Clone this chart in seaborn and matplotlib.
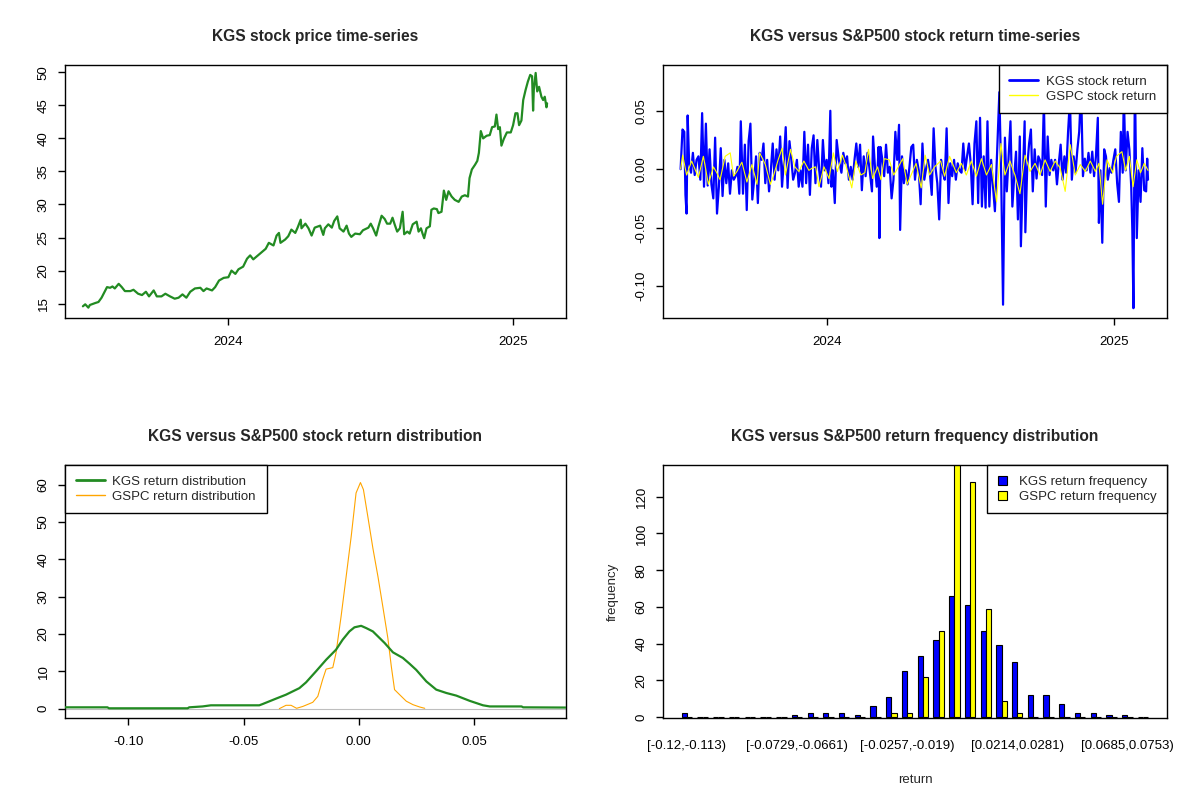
import numpy as np
import pandas as pd
import matplotlib
matplotlib.use("Agg")
import matplotlib.pyplot as plt
import seaborn as sns
from matplotlib.lines import Line2D
from matplotlib.patches import Patch

# ---------------- data ----------------
# KGS closing price: days relative to 2024-01-01, price in USD
price_day = [-187, -184, -180, -178, -171, -167, -163, -159, -156, -152, -149, -146, -141, -137,
             -133, -126, -122, -116, -111, -106, -102, -96, -92, -86, -81, -75, -69, -64, -59,
             -54, -49, -43, -36, -32, -28, -21, -17, -12, -6, 0, 4, 9, 13, 19, 24, 28, 32, 38,
             43, 48, 52, 58, 62, 65, 67, 73, 77, 81, 86, 89, 93, 94, 99, 103, 107, 111, 118,
             122, 124, 128.5, 133, 136, 140, 143, 148, 152, 155, 158, 163, 169, 173, 180, 183,
             186, 190, 193, 197, 201, 204, 208, 211, 214, 217, 220.5, 224, 226, 230, 233, 237,
             242, 244.5, 247.5, 249.6, 251.7, 254.7, 259, 261, 264, 268, 270, 274, 277, 280,
             283, 287, 291, 296, 300, 304, 308, 310, 313, 317, 320, 322, 324.5, 327.5, 332,
             336, 339, 342.5, 344.6, 346.8, 349, 351, 354, 358, 363, 366, 369, 371.6, 373.7,
             376.7, 379, 382, 385, 388, 390.4, 391.7, 392.6, 395, 397, 399.4, 402.4, 404.6,
             406.7, 408.9, 409.7]
price_val = [14.6, 14.9, 14.4, 14.8, 15.1, 15.25, 15.9, 16.8, 17.5, 17.4, 17.6, 17.3, 18.0, 17.5,
             16.9, 16.9, 17.1, 16.5, 16.3, 16.8, 16.1, 17.0, 16.1, 16.1, 16.5, 16.1, 15.75, 15.9,
             16.4, 15.9, 16.8, 17.3, 17.4, 16.9, 17.3, 17.0, 17.5, 18.5, 18.9, 19.0, 20.0, 19.5,
             20.2, 20.6, 21.8, 22.3, 21.7, 22.3, 22.8, 23.3, 24.2, 23.8, 25.3, 25.7, 24.2, 24.7,
             25.2, 26.2, 25.7, 26.5, 27.7, 26.4, 27.1, 26.4, 25.3, 26.5, 26.8,
             25.4, 26.4, 27.0, 26.5, 27.5, 28.2, 26.4, 25.9, 26.8, 25.6, 25.1, 25.6, 25.5, 26.1,
             26.5, 27.1, 26.4, 25.3, 26.7, 28.3, 27.8, 27.1, 27.1, 28.0, 26.9, 25.9, 26.4, 28.9,
             25.5, 25.9, 25.6, 27.0, 27.4, 25.9, 26.4, 25.6, 24.9, 26.4, 26.7, 29.2, 29.4, 29.3,
             28.7, 28.9, 32.1, 30.7, 32.0, 31.2, 30.7, 30.4, 31.2, 31.4, 31.2, 34.0, 35.3, 36.0,
             36.6, 37.8, 41.1, 40.0, 40.4, 40.5, 41.7, 41.8, 43.6, 41.4, 41.7, 38.9, 39.9, 40.9,
             40.9, 42.0, 43.8, 43.8, 42.0, 42.7, 45.8, 47.3, 48.6, 49.6, 49.4, 44.2, 47.3, 49.9,
             47.1, 47.8, 46.3, 45.8, 46.3, 44.7, 45.3]

# KGS daily return: days relative to 2024-01-01, return
kgs_ret_day = [-187.5, -185.1, -182.8, -181.3, -179.9, -178.5, -176.6, -174.2, -171.8, -169.5,
               -167.1, -164.7, -162.3, -160.0, -157.6, -155.2, -152.9, -150.5, -148.1, -145.7,
               -143.4, -141.0, -138.6, -136.2, -133.9, -131.5, -129.1, -126.7, -124.4, -122.0,
               -119.6, -117.2, -114.9, -112.5, -110.6, -107.8, -105.4, -103.0, -100.6, -98.3,
               -95.9, -93.5, -91.1, -88.8, -86.4, -84.0, -81.6, -79.3, -76.9, -74.5, -72.2,
               -69.8, -67.4, -65.0, -62.7, -60.3, -57.9, -55.5, -53.2, -50.8, -48.4, -46.0,
               -43.7, -41.3, -38.9, -36.6, -34.2, -31.8, -29.4, -27.1, -24.7, -22.3, -19.9,
               -17.6, -15.2, -12.8, -10.4, -8.1, -5.7, -3.3, -0.9, 1.4, 3.8, 5.2, 7.1, 9.5,
               11.9, 14.7, 18.0, 20.4, 22.8, 25.2, 27.5, 29.9, 32.3, 34.7, 37.0, 39.4, 41.8,
               44.1, 46.5, 48.9, 51.3, 53.6, 57.0, 58.4, 60.8, 63.1, 65.5, 66.5, 67.9, 70.3,
               72.6, 75.0, 77.4, 79.7, 82.1, 84.5, 86.9, 89.2, 91.6, 93.0, 95.4, 97.8, 100.2,
               102.5, 104.9, 107.3, 109.7, 112.0, 114.4, 116.8, 119.2, 121.5, 123.9, 126.3,
               128.6, 131.0, 133.4, 135.8, 138.1, 140.5, 142.9, 145.3, 147.6, 150.0, 152.4,
               154.8, 157.1, 159.5, 161.9, 164.2, 166.6, 169.0, 171.4, 173.7, 176.1, 178.5,
               180.9, 183.2, 185.6, 188.0, 190.4, 192.7, 195.1, 197.5, 199.8, 202.2, 204.6,
               207.0, 209.3, 211.7, 214.1, 216.5, 219.8, 222.2, 224.5, 226.9, 229.3, 231.7,
               234.0, 236.4, 238.8, 241.1, 243.5, 245.9, 247.3, 249.7, 252.1, 253.0, 255.4,
               257.8, 260.1, 262.5, 264.9, 267.3, 269.6, 272.0, 274.4, 276.7, 279.1, 281.5,
               283.9, 286.2, 288.6, 291.0, 293.4, 295.7, 298.1, 300.5, 302.9, 305.2, 307.6,
               310.0, 312.4, 314.7, 317.1, 319.5, 321.8, 324.2, 326.6, 329.0, 331.3, 333.7,
               336.1, 338.5, 340.8, 343.2, 345.6, 347.0, 348.9, 351.3, 353.7, 356.0, 358.4,
               360.8, 363.1, 365.5, 367.9, 370.3, 372.6, 375.0, 377.4, 378.8, 381.2, 383.6,
               385.9, 388.3, 389.7, 391.1, 393.0, 395.4, 397.8, 400.2, 402.5, 404.9, 407.3,
               408.7, 409.7]
kgs_ret = [0.000, 0.034, 0.032, -0.022, -0.038, 0.046, 0.005, -0.003, 0.014, -0.005,
           0.008, 0.011, -0.009, 0.048, -0.015, 0.039, -0.014, 0.017, -0.013, -0.025,
           0.027, -0.038, -0.015, 0.018, -0.023, 0.008, -0.012, 0.005, -0.021, -0.001,
           -0.009, -0.006, 0.002, -0.021, 0.041, -0.021, 0.021, -0.035, 0.024, 0.039,
           -0.026, -0.009, 0.011, -0.029, 0.014, 0.008, 0.022, -0.012, 0.008, -0.019, -0.001,
           0.022, -0.009, 0.017, -0.001, 0.028, -0.015, 0.008, 0.036, -0.016, 0.024, 0.008,
           -0.009, -0.003, 0.008, -0.015, -0.001, -0.015, 0.032, -0.012, 0.021, -0.022, 0.018,
           0.029, -0.012, 0.025, -0.001, -0.015, 0.025, -0.001, 0.008, -0.012, 0.050, -0.015, -0.001, -0.029,
           0.025, 0.008, -0.003, 0.014, 0.005, 0.011, -0.009, 0.002, -0.009, 0.008, 0.022, 0.002, 0.021,
           -0.018, 0.011, -0.006, 0.014, 0.002, -0.019, 0.028, 0.002, -0.015, 0.019, -0.059, 0.019, 0.008,
           -0.006, 0.021, -0.003, 0.002, -0.025, -0.009, 0.032, 0.008, 0.038, -0.052, 0.011, -0.012, -0.001,
           -0.013, 0.002, 0.019, 0.021, -0.009, 0.008, -0.001, -0.030, 0.022, -0.009, 0.001,
           0.008, -0.003, -0.022, 0.035, 0.002, -0.012, -0.043, 0.008, -0.003, -0.009, 0.035,
           -0.029, 0.005, -0.006, 0.008, -0.009, 0.005, -0.001, -0.003, 0.022, -0.001, 0.011,
           0.022, 0.005, -0.030, 0.022, 0.041, -0.029, 0.044, -0.032, 0.011, -0.033, 0.041,
           -0.032, 0.008, -0.015, -0.036, 0.008, 0.066, -0.009, -0.116, 0.027, -0.019, 0.011,
           0.041, -0.032, -0.006, 0.015, -0.043, 0.028, -0.066, -0.009, 0.041, -0.054, 0.002,
           0.022, 0.034, -0.019, 0.017, -0.008, 0.011, 0.007, -0.005, 0.058, -0.032, 0.028,
           -0.005, 0.008, -0.001, 0.008, -0.013, 0.005, 0.021, -0.009, 0.011, -0.003, 0.032,
           0.060, -0.009, 0.011, -0.003, 0.017, 0.032, 0.070, -0.006, 0.009, -0.001, 0.014,
           -0.003, 0.015, -0.006, 0.011, 0.044, -0.046, -0.001, -0.063, 0.017, 0.011, -0.009,
           0.001, -0.003, 0.008, 0.017, -0.012, -0.028, 0.032, -0.003, 0.065, -0.001, 0.032,
           0.017, -0.015, -0.052, -0.119, 0.081, -0.059, -0.001, -0.028, 0.018, -0.018, -0.019,
           0.009, -0.009]

# S&P 500 (GSPC) daily return: days relative to 2024-01-01, return
gspc_ret_day = [-187.5, -184.9, -179.8, -173.4, -164.8, -158.4, -152.0, -145.6, -141.3, -137.0,
                -130.6, -124.1, -119.9, -115.6, -109.2, -102.8, -96.3, -89.9, -86.5, -79.2,
                -72.8, -68.5, -62.9, -57.8, -53.5, -47.1, -41.5, -36.4, -30.0, -23.6, -19.3,
                -15.0, -10.7, -4.3, 2.1, 7.7, 12.8, 19.2, 24.8, 31.2, 36.4, 42.8, 47.9, 52.6,
                57.8, 64.2, 68.5, 72.8, 79.2, 84.8, 89.9, 96.3, 101.9, 107.0, 113.4, 119.9,
                125.0, 130.6, 137.0, 144.7, 149.8, 156.2, 164.8, 171.2, 177.6, 184.0, 190.5,
                196.9, 203.3, 209.7, 216.2, 221.8, 226.9, 233.3, 239.7, 246.1, 252.6, 259.0,
                265.4, 271.8, 278.2, 284.7, 291.1, 297.5, 303.9, 310.4, 316.8, 323.2, 329.6,
                336.0, 342.5, 347.0, 351.7, 357.4, 364.6, 369.3, 376.4, 381.2, 385.9, 390.7,
                395.4, 400.2, 404.9, 409.7]
gspc_ret = [0.000, 0.012, -0.005, 0.007, -0.007, 0.011, -0.013, 0.002, -0.003, -0.009,
            0.011, 0.014, -0.006, -0.002, 0.006, -0.011, 0.004, -0.013, 0.014, 0.004,
            -0.013, -0.005, 0.008, 0.018, -0.005, 0.017, 0.002, -0.002, 0.007, -0.001, 0.001,
            0.002, -0.015, 0.002, -0.008, 0.014, -0.002, 0.012, 0.001, -0.016, 0.007, -0.005,
            -0.003, 0.017, -0.008, 0.002, -0.009, 0.009, 0.008, -0.005, 0.001, 0.009, -0.013,
            -0.005, 0.005, -0.016, 0.012, -0.005, 0.002, 0.007, -0.006, 0.011, -0.003, 0.005,
            -0.005, 0.007, -0.006, 0.009, -0.005, 0.004, -0.028, 0.022, -0.005, 0.007, -0.005,
            -0.021, 0.012, -0.002, 0.005, -0.005, 0.008, -0.002, 0.007, 0.001, -0.019, 0.021,
            -0.005, 0.004, -0.002, 0.007, -0.002, 0.005, -0.030, 0.008, -0.003, 0.011, 0.015,
            -0.001, 0.011, -0.015, 0.008, -0.003, 0.005, -0.001]

# Kernel density curves of the returns
kgs_dens_x = [-0.1275, -0.1091, -0.1084, -0.0743, -0.0736, -0.0678, -0.0642, -0.0432, -0.0417,
              -0.0359, -0.0316, -0.0258, -0.0229, -0.0186, -0.0142, -0.0099, -0.0070, -0.0041,
              -0.0019, 0.0010, 0.0032, 0.0061, 0.0112, 0.0148, 0.0191, 0.0220, 0.0249, 0.0293,
              0.0336, 0.0380, 0.0423, 0.0481, 0.0539, 0.0568, 0.0706, 0.0713, 0.0899]
kgs_dens_y = [0.36, 0.36, 0.1, 0.1, 0.36, 0.6, 0.9, 0.9, 1.25,
              2.7, 3.75, 5.5, 7.05, 10.0, 13.1, 15.8, 18.5, 20.7,
              21.8, 22.2, 21.6, 20.7, 17.6, 15.1, 13.6, 12.05, 10.4, 7.3,
              5.1, 4.2, 3.5, 2.1, 0.9, 0.6, 0.6, 0.36, 0.3]
gspc_dens_x = [-0.0345, -0.0316, -0.0294, -0.0270, -0.0243, -0.0200, -0.0178, -0.0157, -0.0142,
               -0.0113, -0.0099, -0.0077, -0.0055, -0.0033, -0.0012, 0.0007, 0.0020, 0.0039,
               0.0061, 0.0083, 0.0104, 0.0126, 0.0141, 0.0155, 0.0177, 0.0206, 0.0235, 0.0264,
               0.0286]
gspc_dens_y = [0.0, 0.9, 0.9, 0.1, 0.6, 1.7, 3.3, 7.8, 10.6,
               11.0, 14.9, 24.7, 35.4, 46.2, 57.8, 60.6, 58.7, 51.5,
               43.0, 35.4, 27.4, 18.9, 11.3, 5.1, 3.75, 2.0, 1.07, 0.45,
               0.1]

# Return frequency table (30 equal bins)
bin_labels = ["[-0.12,-0.113)", "[-0.113,-0.106)", "[-0.106,-0.0997)", "[-0.0997,-0.093)",
              "[-0.093,-0.0863)", "[-0.0863,-0.0796)", "[-0.0796,-0.0729)", "[-0.0729,-0.0661)",
              "[-0.0661,-0.0594)", "[-0.0594,-0.0527)", "[-0.0527,-0.0459)", "[-0.0459,-0.0392)",
              "[-0.0392,-0.0325)", "[-0.0325,-0.0257)", "[-0.0257,-0.019)", "[-0.019,-0.0123)",
              "[-0.0123,-0.00553)", "[-0.00553,0.00121)", "[0.00121,0.00794)", "[0.00794,0.0147)",
              "[0.0147,0.0214)", "[0.0214,0.0281)", "[0.0281,0.0349)", "[0.0349,0.0416)",
              "[0.0416,0.0483)", "[0.0483,0.0551)", "[0.0551,0.0618)", "[0.0618,0.0685)",
              "[0.0685,0.0753)", "[0.0753,0.082]"]
kgs_freq = [2, 0, 0, 0, 0, 0, 0, 1, 2, 2, 2, 1, 6, 11, 25, 33, 42, 66, 61, 47,
            39, 30, 12, 12, 7, 2, 2, 1, 1, 0]
gspc_freq = [0, 0, 0, 0, 0, 0, 0, 0, 0, 0, 0, 0, 0, 2, 2, 22, 47, 138, 128, 59,
             9, 2, 0, 0, 0, 0, 0, 0, 0, 0]

# ---------------- styling ----------------
sns.set_style("white")
plt.rcParams['font.family'] = ['Liberation Sans', 'DejaVu Sans']
plt.rcParams['axes.unicode_minus'] = False

BASE = pd.Timestamp("2024-01-01")


def to_dates(days):
    return BASE + pd.to_timedelta(np.asarray(days, dtype=float), unit="D")


TICK_FS = 9.5
TITLE_FS = 11.2


def style_axes(ax, title):
    for s in ax.spines.values():
        s.set_visible(True)
        s.set_color("black")
        s.set_linewidth(1.0)
    ax.tick_params(axis="both", which="both", direction="out", length=5, width=1,
                   color="black", labelsize=TICK_FS, labelcolor="black",
                   bottom=True, left=True, top=False, right=False)
    ax.tick_params(axis="x", pad=8)
    ax.tick_params(axis="y", pad=6)
    ax.set_xlabel("")
    ax.set_ylabel("")
    ax.set_title(title, fontsize=TITLE_FS, fontweight="bold", pad=17)


def rotate_ylabels(ax):
    for lab in ax.get_yticklabels():
        lab.set_rotation(90)
        lab.set_va("center")


def boxed_legend(ax, handles, labels, loc, **kw):
    opts = dict(borderaxespad=0, frameon=True, fancybox=False, edgecolor="black",
                framealpha=1, facecolor="white", fontsize=TICK_FS, handlelength=2.2,
                borderpad=0.8, labelspacing=0.22, handletextpad=0.6)
    opts.update(kw)
    leg = ax.legend(handles=handles, labels=labels, loc=loc,
                    bbox_to_anchor=(1, 1) if "right" in loc else (0, 1), **opts)
    leg.get_frame().set_linewidth(1.0)
    leg.set_zorder(10)
    return leg


fig = plt.figure(figsize=(12, 8), dpi=100)
fig.patch.set_facecolor("white")

L1, L2, W1, W2 = 65 / 1200, 663 / 1200, 501 / 1200, 504 / 1200
B_TOP, B_BOT, H = 1 - 318 / 800, 1 - 718 / 800, 253 / 800
ax1 = fig.add_axes([L1, B_TOP, W1, H])
ax2 = fig.add_axes([L2, B_TOP, W2, H])
ax3 = fig.add_axes([L1, B_BOT, W1, H])
ax4 = fig.add_axes([L2, B_BOT, W2, H])

xlim_dates = (BASE + pd.Timedelta(days=-210), BASE + pd.Timedelta(days=434))
year_ticks = [pd.Timestamp("2024-01-01"), pd.Timestamp("2025-01-01")]

# ---- Panel 1: price
sns.lineplot(x=to_dates(price_day), y=price_val, ax=ax1, color="#228B22",
             linewidth=1.6, estimator=None, sort=False)
style_axes(ax1, "KGS stock price time-series")
ax1.set_xlim(*xlim_dates)
ax1.set_ylim(12.83, 51.1)
ax1.set_xticks(year_ticks)
ax1.set_xticklabels(["2024", "2025"])
ax1.set_yticks([15, 20, 25, 30, 35, 40, 45, 50])
ax1.set_yticklabels(["15", "20", "25", "30", "35", "40", "45", "50"])
rotate_ylabels(ax1)

# ---- Panel 2: returns
sns.lineplot(x=to_dates(kgs_ret_day), y=kgs_ret, ax=ax2, color="blue",
             linewidth=1.6, estimator=None, sort=False)
sns.lineplot(x=to_dates(gspc_ret_day), y=gspc_ret, ax=ax2, color="yellow",
             linewidth=0.8, estimator=None, sort=False)
style_axes(ax2, "KGS versus S&P500 stock return time-series")
ax2.set_xlim(*xlim_dates)
ax2.set_ylim(-0.1274, 0.0892)
ax2.set_xticks(year_ticks)
ax2.set_xticklabels(["2024", "2025"])
ax2.set_yticks([-0.10, -0.05, 0.0, 0.05])
ax2.set_yticklabels(["-0.10", "-0.05", "0.00", "0.05"])
rotate_ylabels(ax2)
boxed_legend(ax2, [Line2D([], [], color="blue", lw=2), Line2D([], [], color="yellow", lw=1)],
             ["KGS stock return", "GSPC stock return"], "upper right")

# ---- Panel 3: density
ax3.axhline(0, color="#bebebe", linewidth=0.8, zorder=1)
sns.lineplot(x=kgs_dens_x, y=kgs_dens_y, ax=ax3, color="#228B22", linewidth=1.6,
             estimator=None, zorder=3)
sns.lineplot(x=gspc_dens_x, y=gspc_dens_y, ax=ax3, color="orange", linewidth=0.8,
             estimator=None, zorder=2)
style_axes(ax3, "KGS versus S&P500 stock return distribution")
ax3.set_xlim(-0.1275, 0.0899)
ax3.set_ylim(-2.5, 65.3)
ax3.set_xticks([-0.10, -0.05, 0.0, 0.05])
ax3.set_xticklabels(["-0.10", "-0.05", "0.00", "0.05"])
ax3.set_yticks([0, 10, 20, 30, 40, 50, 60])
ax3.set_yticklabels(["0", "10", "20", "30", "40", "50", "60"])
rotate_ylabels(ax3)
boxed_legend(ax3, [Line2D([], [], color="#228B22", lw=2), Line2D([], [], color="orange", lw=1)],
             ["KGS return distribution", "GSPC return distribution"], "upper left")

# ---- Panel 4: frequency bars
freq_df = pd.DataFrame({
    "bin": bin_labels * 2,
    "series": ["KGS"] * len(bin_labels) + ["GSPC"] * len(bin_labels),
    "count": kgs_freq + gspc_freq,
})
sns.barplot(data=freq_df, x="bin", y="count", hue="series", order=bin_labels,
            hue_order=["KGS", "GSPC"], palette={"KGS": "blue", "GSPC": "yellow"},
            saturation=1, width=2 / 3, edgecolor="black", linewidth=0.8, ax=ax4,
            legend=False, errorbar=None)
style_axes(ax4, "KGS versus S&P500 return frequency distribution")
ax4.set_xlim(-1.52, 30.52)
ax4.set_ylim(-0.5, 137.3)
shown = [0, 7, 14, 21, 28]
ax4.set_xticks(shown)
ax4.set_xticklabels([bin_labels[i] for i in shown])
ax4.tick_params(axis="x", length=0, pad=16)
ax4.set_yticks([0, 20, 40, 60, 80, 100, 120])
ax4.set_yticklabels(["0", "20", "40", "60", "80", "100", "120"])
rotate_ylabels(ax4)
ax4.set_xlabel("return", fontsize=TICK_FS, labelpad=16)
ax4.set_ylabel("frequency", fontsize=TICK_FS, labelpad=12)
boxed_legend(ax4, [Patch(facecolor="blue", edgecolor="black", linewidth=0.8),
                   Patch(facecolor="yellow", edgecolor="black", linewidth=0.8)],
             ["KGS return frequency", "GSPC return frequency"], "upper right",
             handlelength=0.7, handleheight=0.7, handletextpad=0.9)

fig.savefig("out.png", dpi=100, facecolor="white")
